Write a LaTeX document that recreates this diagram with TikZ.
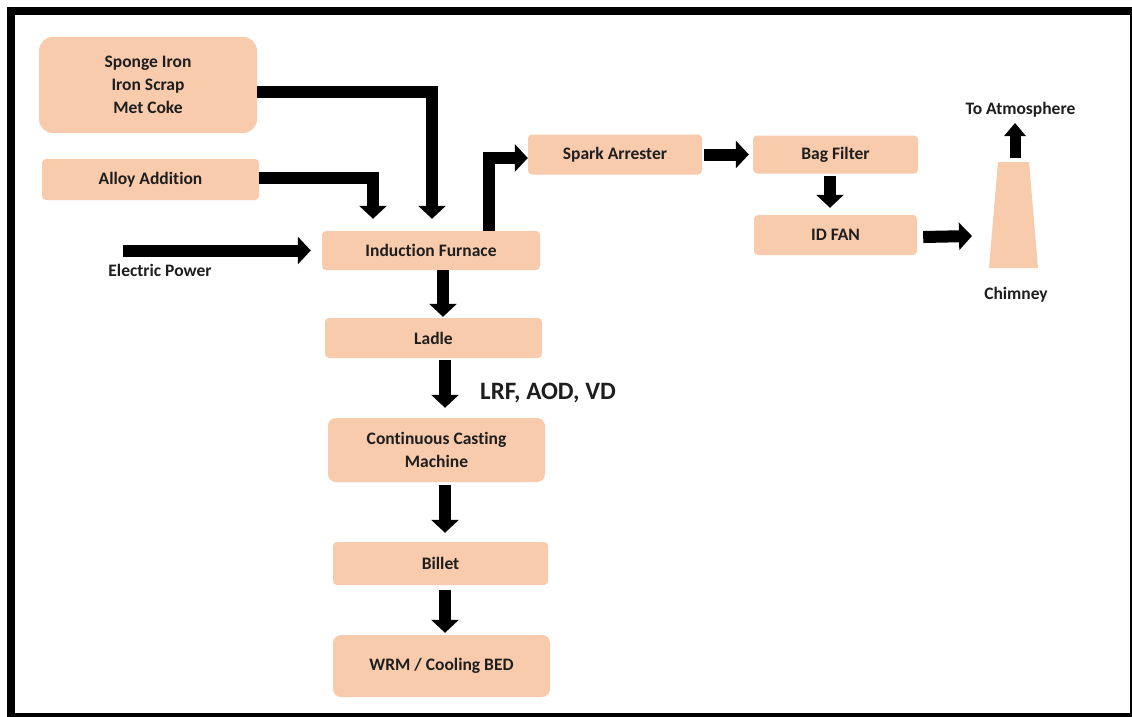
\documentclass[tikz,border=0pt]{standalone}
\usepackage{fontspec}
\setmainfont{Carlito}[Ligatures=NoCommon]
\usetikzlibrary{arrows.meta}
\definecolor{peach}{HTML}{F8CBAD}
\definecolor{ink}{HTML}{1E1E1E}
\tikzset{
  proc/.style={fill=peach, draw=none, rounded corners=4pt, inner sep=0pt,
    align=center, text=ink, font=\bfseries\fontsize{17.5}{23}\selectfont},
  lbl/.style={text=ink, inner sep=0pt, font=\bfseries\fontsize{17.5}{23}\selectfont},
  flow/.style={line width=12pt, line join=miter, draw=black,
    -{Triangle[width=27pt,length=13pt]}},
  slimflow/.style={line width=11pt, draw=black,
    -{Triangle[width=21pt,length=13pt]}}
}
\begin{document}
\begin{tikzpicture}[x=1pt,y=-1pt]
\useasboundingbox (0,0) rectangle (1132,717);
% frame
\fill[white] (0,0) rectangle (1132,717);
\fill[black] (7,7) rectangle (1132,717);
\fill[white] (15,15) rectangle (1130,713);

% process boxes
\node[proc, rounded corners=14pt, minimum width=218pt, minimum height=96pt] (sponge) at (148,85)
  {Sponge Iron\\Iron Scrap\\Met Coke};
\node[proc, minimum width=217pt, minimum height=41pt] (alloy) at (150.5,179.5) {Alloy Addition};
\node[proc, minimum width=218pt, minimum height=39pt] (furnace) at (431,250.5) {Induction Furnace};
\node[proc, minimum width=217pt, minimum height=40pt] (ladle) at (433.5,338) {Ladle};
\node[proc, rounded corners=8pt, minimum width=217pt, minimum height=64pt] (ccm) at (436.5,450)
  {Continuous Casting\\Machine};
\node[proc, minimum width=215pt, minimum height=43pt] (billet) at (440.5,563.5) {Billet};
\node[proc, rounded corners=8pt, minimum width=217pt, minimum height=62pt] (wrm) at (441.5,666)
  {WRM / Cooling BED};
\node[proc, minimum width=174pt, minimum height=40pt] (spark) at (615,154.5) {Spark Arrester};
\node[proc, minimum width=165pt, minimum height=38pt] (bag) at (835.5,154.5) {Bag Filter};
\node[proc, minimum width=163pt, minimum height=40pt] (idfan) at (835.5,235) {ID FAN};

% chimney
\fill[peach] (998,162) -- (1029,162) -- (1038,268) -- (989,268) -- cycle;
\coordinate (chimin) at (972,236);
\coordinate (chimtop) at (1015,158);
\coordinate (atmtip) at (1015,123);
\coordinate (power) at (123,250.5);

% labels
\node[lbl] (atm) at (1020.5,110) {To Atmosphere};
\node[lbl] (chimney) at (1016,295) {Chimney};
\node[lbl] (eplabel) at (160,270) {Electric Power};
\node[text=ink, inner sep=0pt, font=\bfseries\fontsize{25}{30}\selectfont] (treat) at (548,393) {LRF, AOD, VD};

% feed lines into the furnace
\draw[flow] ([yshift=-6.5pt]sponge.east) -| ([xshift=1pt,yshift=12pt]furnace.north);
\draw[flow] ([yshift=2pt]alloy.east) -| ([xshift=-58pt,yshift=12pt]furnace.north);
\draw[flow] (power) -- ([xshift=-11pt]furnace.west);

% off-gas line
\draw[flow] ([xshift=58pt]furnace.north) |- ([yshift=-3.5pt]spark.west);
\draw[flow] ([xshift=2pt]spark.east) -- ([xshift=-4pt]bag.west);
\draw[flow] ([xshift=-5.5pt,yshift=-2pt]bag.south) -- ([xshift=-5.5pt,yshift=7pt]idfan.north);
\draw[flow] ([xshift=6pt,yshift=-2pt]idfan.east) -- (chimin);
\draw[slimflow] (chimtop) -- (atmtip);

% metal line
\draw[flow] ([xshift=12pt]furnace.south) -- ([xshift=9.5pt,yshift=1pt]ladle.north);
\draw[flow] ([xshift=11.5pt,yshift=-2pt]ladle.south) -- ([xshift=8.5pt,yshift=10pt]ccm.north);
\draw[flow] ([xshift=8.5pt,yshift=-3pt]ccm.south) -- ([xshift=4.5pt,yshift=9pt]billet.north);
\draw[flow] ([xshift=4.5pt,yshift=-5pt]billet.south) -- ([xshift=3.5pt,yshift=2pt]wrm.north);
\end{tikzpicture}
\end{document}
